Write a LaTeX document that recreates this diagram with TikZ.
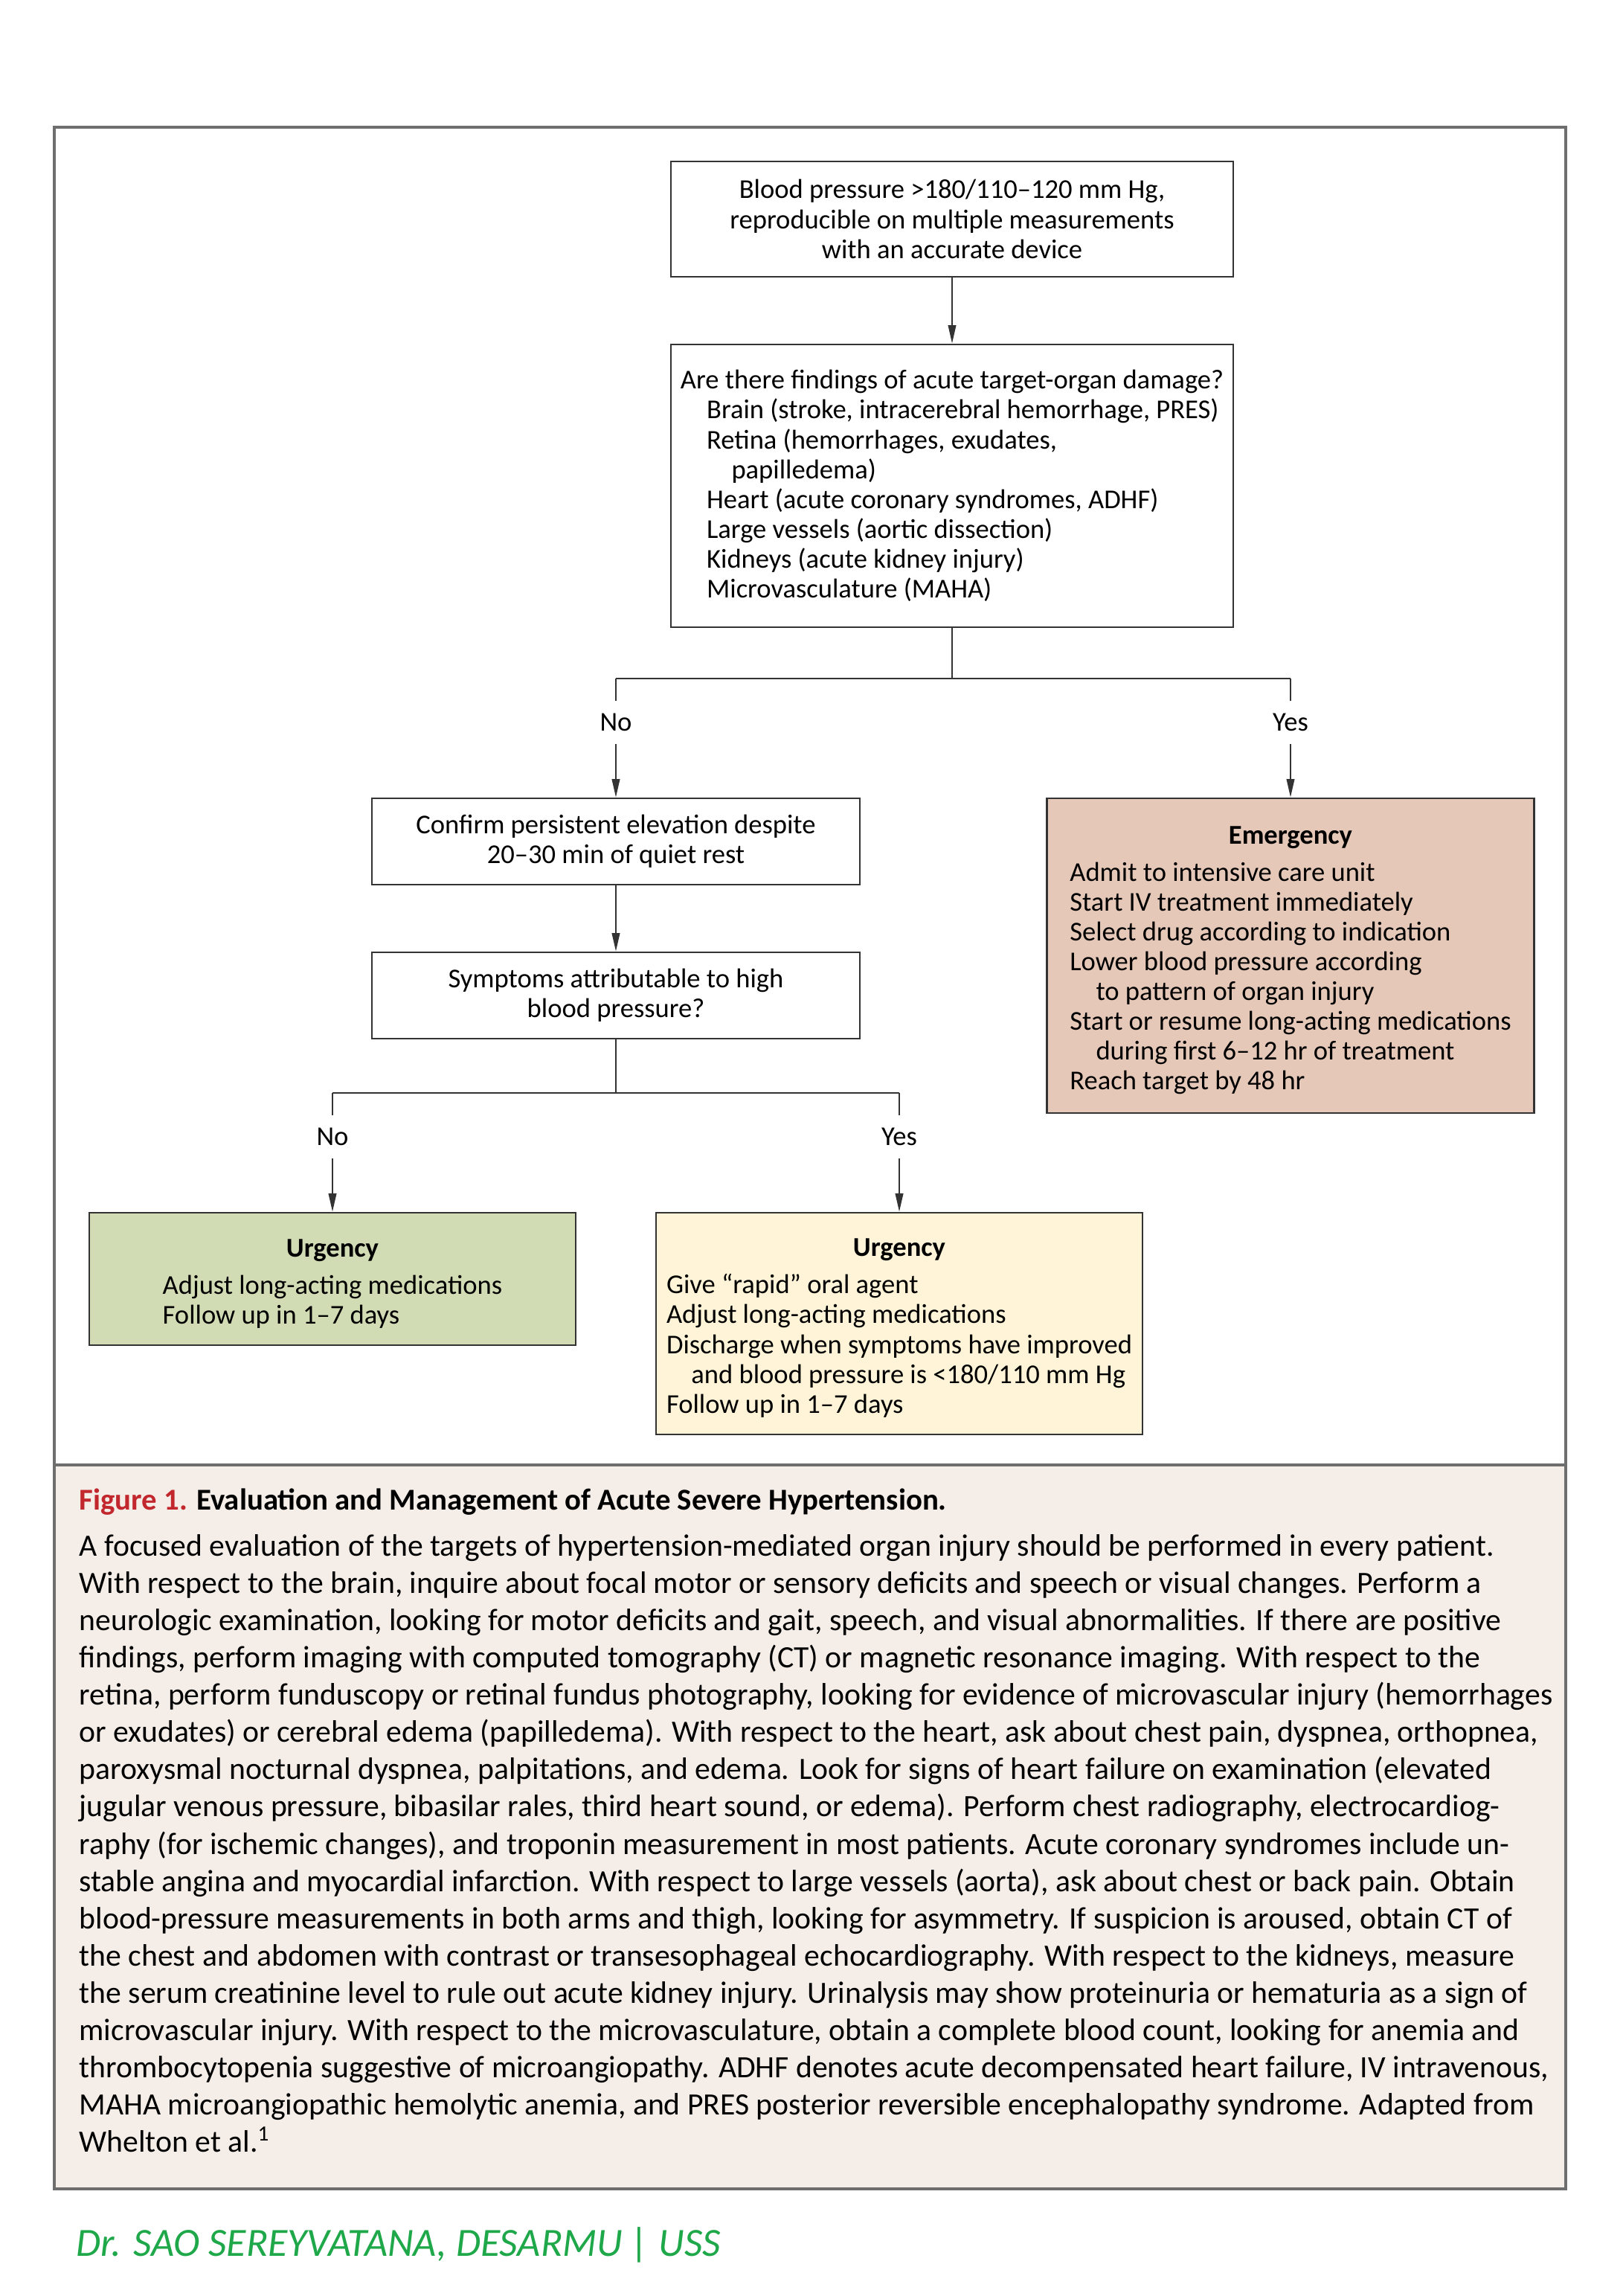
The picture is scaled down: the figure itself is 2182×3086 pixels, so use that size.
\documentclass[tikz,border=0pt]{standalone}
\usepackage{fontspec}
\setmainfont{Carlito}
\usetikzlibrary{arrows.meta,positioning}

\definecolor{boxline}{HTML}{333333}
\definecolor{framegray}{HTML}{6E6E6E}
\definecolor{emergfill}{HTML}{E6C8B8}
\definecolor{greenfill}{HTML}{D2DCB4}
\definecolor{creamfill}{HTML}{FFF4D8}
\definecolor{capfill}{HTML}{F5EEE8}
\definecolor{figred}{HTML}{C1272D}
\definecolor{signgreen}{HTML}{1FA84A}

\newcommand{\boxfont}{\fontsize{10.4}{11.4}\selectfont}
\newcommand{\steps}[2]{\rule{0pt}{12pt}\textbf{#1}\\[2.8pt]\begin{tabular}[t]{@{}l@{}}#2\end{tabular}}

\tikzset{
	box/.style={draw=boxline, line width=0.7pt, inner sep=0pt, font=\boxfont, align=center},
	answer/.style={inner sep=0pt, minimum height=0.57cm, font=\boxfont},
	link/.style={draw=boxline, line width=0.6pt},
	flow/.style={link, -{Triangle[length=7pt,width=3pt]}},
	frame/.style={draw=framegray, line width=1.2pt}
}

\begin{document}
\begin{tikzpicture}[x=0.01cm,y=-0.01cm]
	%%%%% START %%%%%
	\useasboundingbox (0,0) rectangle (2182,3086);
	
	% caption panel and outer frame
	\fill[capfill] (73,1969) rectangle (2105,2942);
	\draw[frame] (73,171) rectangle (2105,2942);
	\draw[frame] (73,1969) -- (2105,1969);
	
	% boxes
	\node[box, minimum width=7.56cm, minimum height=1.55cm] (bp) at (1280,294.5)
		{Blood pressure >180/110–120 mm Hg,\\reproducible on multiple measurements\\with an accurate device};
	\node[box, align=left, minimum width=7.56cm, minimum height=3.80cm] (organ) at (1280,653)
		{Are there findings of acute target-organ damage?\\
		\hspace*{10pt}Brain (stroke, intracerebral hemorrhage, PRES)\\
		\hspace*{10pt}Retina (hemorrhages, exudates,\\
		\hspace*{19.5pt}papilledema)\\
		\hspace*{10pt}Heart (acute coronary syndromes, ADHF)\\
		\hspace*{10pt}Large vessels (aortic dissection)\\
		\hspace*{10pt}Kidneys (acute kidney injury)\\
		\hspace*{10pt}Microvasculature (MAHA)};
	
	\node[box, minimum width=6.56cm, minimum height=1.16cm] (confirm) at (828,1131)
		{Confirm persistent elevation despite\\20–30 min of quiet rest};
	\node[box, minimum width=6.56cm, minimum height=1.16cm] (sympt) at (828,1338)
		{Symptoms attributable to high\\blood pressure?};
	
	\node[box, fill=emergfill, minimum width=6.55cm, minimum height=4.23cm] (emerg) at (1735,1284.5)
		{\steps{Emergency}{Admit to intensive care unit\\
		Start IV treatment immediately\\
		Select drug according to indication\\
		Lower blood pressure according\\
		\hspace*{10pt}to pattern of organ injury\\
		Start or resume long-acting medications\\
		\hspace*{10pt}during first 6–12 hr of treatment\\
		Reach target by 48 hr}};
	
	\node[box, fill=greenfill, minimum width=6.54cm, minimum height=1.78cm] (urgA) at (447,1719)
		{\steps{Urgency}{Adjust long-acting medications\\Follow up in 1–7 days}};
	\node[box, fill=creamfill, minimum width=6.54cm, minimum height=2.98cm] (urgB) at (1209,1779)
		{\steps{Urgency}{Give “rapid” oral agent\\
		Adjust long-acting medications\\
		Discharge when symptoms have improved\\
		\hspace*{9.5pt}and blood pressure is <180/110 mm Hg\\
		Follow up in 1–7 days}};
	
	% answers
	\node[answer] (noA) at (828,971) {No};
	\node[answer] (yesA) at (1735,971) {Yes};
	\node[answer] (noB) at (447,1528) {No};
	\node[answer] (yesB) at (1209,1528) {Yes};
	
	\coordinate (forkA) at (1280,912);
	\coordinate (forkAL) at (828,912);
	\coordinate (forkAR) at (1735,912);
	\coordinate (forkB) at (828,1469);
	\coordinate (forkBL) at (447,1469);
	\coordinate (forkBR) at (1209,1469);
	
	% connectors
	\draw[flow] (bp) -- (organ);
	\draw[link] (organ) -- (forkA);
	\draw[link] (forkAL) -- (forkAR);
	\draw[link] (forkAL) -- (noA);
	\draw[link] (forkAR) -- (yesA);
	\draw[flow] (noA) -- (confirm);
	\draw[flow] (yesA) -- (emerg);
	\draw[flow] (confirm) -- (sympt);
	\draw[link] (sympt) -- (forkB);
	\draw[link] (forkBL) -- (forkBR);
	\draw[link] (forkBL) -- (noB);
	\draw[link] (forkBR) -- (yesB);
	\draw[flow] (noB) -- (urgA);
	\draw[flow] (yesB) -- (urgB);
	
	% caption
	\node[anchor=west, inner sep=0pt, font=\fontsize{11.6}{14.2}\selectfont\bfseries] (title) at (106,2019)
		{\textcolor{figred}{Figure 1.} Evaluation and Management of Acute Severe Hypertension.};
	\node[anchor=north west, inner sep=0pt, align=left, font=\fontsize{11.85}{14.23}\selectfont] (legend) at (106,2062)
		{A focused evaluation of the targets of hypertension-mediated organ injury should be performed in every patient.\\
		With respect to the brain, inquire about focal motor or sensory deficits and speech or visual changes. Perform a\\
		neurologic examination, looking for motor deficits and gait, speech, and visual abnormalities. If there are positive\\
		findings, perform imaging with computed tomography (CT) or magnetic resonance imaging. With respect to the\\
		retina, perform funduscopy or retinal fundus photography, looking for evidence of microvascular injury (hemorrhages\\
		or exudates) or cerebral edema (papilledema). With respect to the heart, ask about chest pain, dyspnea, orthopnea,\\
		paroxysmal nocturnal dyspnea, palpitations, and edema. Look for signs of heart failure on examination (elevated\\
		jugular venous pressure, bibasilar rales, third heart sound, or edema). Perform chest radiography, electrocardiog-\\
		raphy (for ischemic changes), and troponin measurement in most patients. Acute coronary syndromes include un-\\
		stable angina and myocardial infarction. With respect to large vessels (aorta), ask about chest or back pain. Obtain\\
		blood-pressure measurements in both arms and thigh, looking for asymmetry. If suspicion is aroused, obtain CT of\\
		the chest and abdomen with contrast or transesophageal echocardiography. With respect to the kidneys, measure\\
		the serum creatinine level to rule out acute kidney injury. Urinalysis may show proteinuria or hematuria as a sign of\\
		microvascular injury. With respect to the microvasculature, obtain a complete blood count, looking for anemia and\\
		thrombocytopenia suggestive of microangiopathy. ADHF denotes acute decompensated heart failure, IV intravenous,\\
		MAHA microangiopathic hemolytic anemia, and PRES posterior reversible encephalopathy syndrome. Adapted from\\
		Whelton et al.\textsuperscript{1}};
	
	% signature
	\node[anchor=west, inner sep=0pt, text=signgreen, font=\fontsize{15.3}{18}\selectfont\itshape] (sign) at (102,3017)
		{Dr. SAO SEREYVATANA, DESARMU | USS};
	%%%%% END %%%%%
\end{tikzpicture}
\end{document}
